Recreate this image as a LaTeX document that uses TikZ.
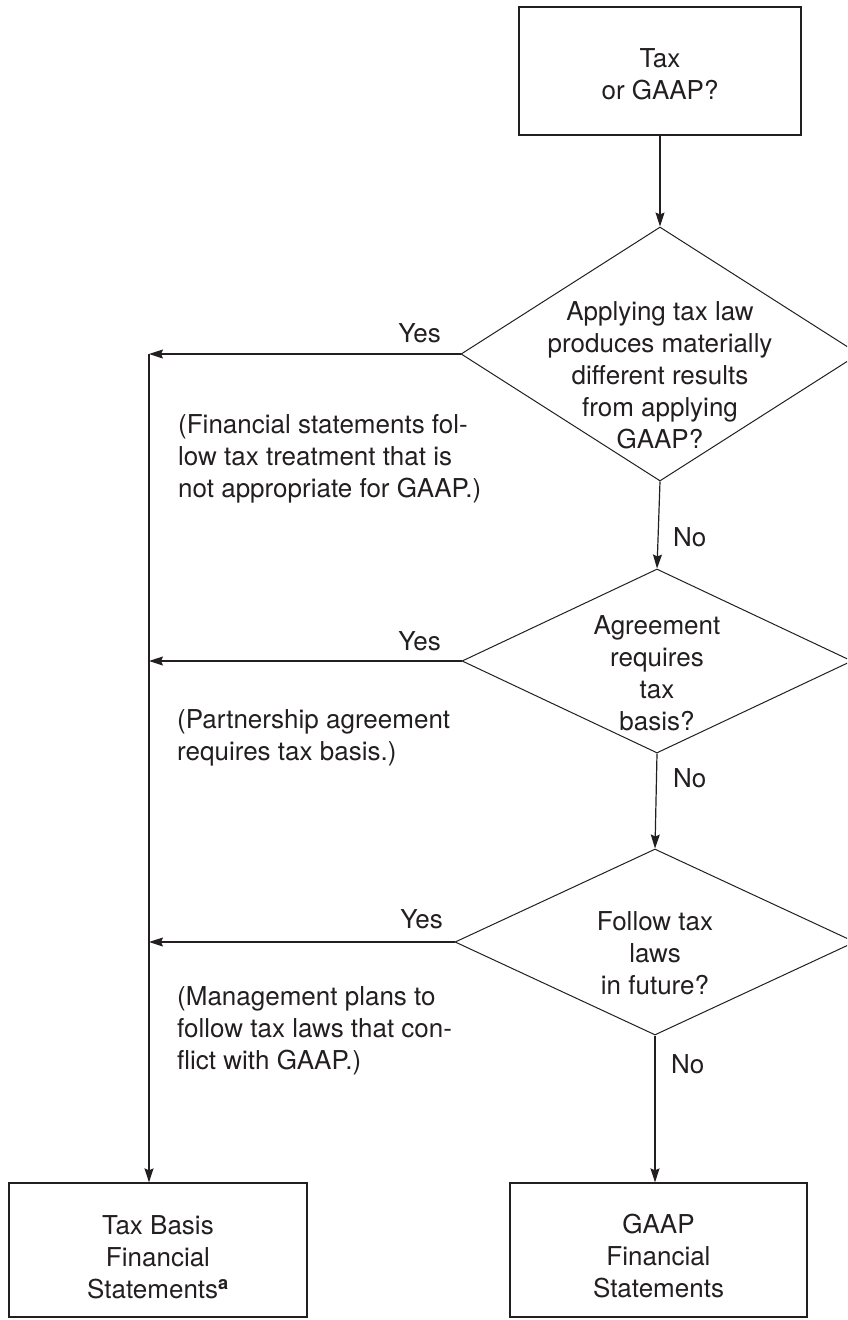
\documentclass[tikz,border=0pt]{standalone}
\usepackage{fontspec}
\setmainfont{TeX Gyre Heros}
\usetikzlibrary{shapes.geometric,arrows.meta}
\definecolor{ink}{RGB}{35,31,32}
\begin{document}
\begin{tikzpicture}[x=1pt,y=-1pt,
  every node/.style={text=ink},
  txt/.style={font=\fontsize{26}{32}\selectfont, inner sep=0pt, align=center},
  ltxt/.style={font=\fontsize{26}{32}\selectfont, inner sep=0pt, align=left, anchor=west},
  lab/.style={font=\fontsize{26}{32}\selectfont, inner sep=0pt},
  box/.style={draw=ink, line width=1.3pt, rectangle, inner sep=0pt},
  dec/.style={draw=ink, line width=1pt, diamond, inner sep=0pt, aspect=1},
  conn/.style={draw=ink, line width=1.2pt},
  arr/.style={conn, -{Stealth[length=14pt,width=9pt,inset=2pt]}}
]
\useasboundingbox (0,0) rectangle (847,1320);
\clip (0,0) rectangle (847,1320);

% boxes
\node[box, minimum width=282pt, minimum height=128pt] (top) at (660,71) {};
\node[txt] (toptxt) at (660,74) {Tax\\or GAAP?};

\node[box, minimum width=298pt, minimum height=134pt] (tb) at (158,1250) {};
\node[txt] (tbtxt) at (158,1257) {Tax Basis\\Financial\\Statements\textsuperscript{\textbf{a}}};

\node[box, minimum width=297pt, minimum height=134pt] (gb) at (658.5,1250) {};
\node[txt] (gbtxt) at (658.5,1256) {GAAP\\Financial\\Statements};

% decisions
\node[dec, minimum width=398pt, minimum height=254pt] (d1) at (660,354) {};
\node[txt] (d1txt) at (660,375) {Applying tax law\\produces materially\\different results\\from applying\\GAAP?};

\node[dec, minimum width=390pt, minimum height=184pt] (d2) at (657,661) {};
\node[txt] (d2txt) at (657,673) {Agreement\\requires\\tax\\basis?};

\node[dec, minimum width=400pt, minimum height=186pt] (d3) at (655,942) {};
\node[txt] (d3txt) at (655,953) {Follow tax\\laws\\in future?};

% left column
\coordinate (lx) at (149,0);

% connectors
\draw[arr] (top.south) -- (d1.north);
\draw[arr] (d1.south) -- (d2.north);
\draw[arr] (d2.south) -- (d3.north);
\draw[arr] (d3.south) -- (d3.south |- gb.north);

\draw[arr] (d1.west) -- (d1.west -| lx) coordinate (j1);
\draw[arr] (d2.west) -- (d2.west -| lx) coordinate (j2);
\draw[arr] (d3.west) -- (d3.west -| lx) coordinate (j3);
\draw[arr] (j1) -- (j1 |- tb.north);

% labels
\node[lab, anchor=base east] (yes1) at (441,342) {Yes};
\node[lab, anchor=base east] (yes2) at (441,650) {Yes};
\node[lab, anchor=base east] (yes3) at (443,928) {Yes};

\node[lab, anchor=base west] (no1) at (673,546) {No};
\node[lab, anchor=base west] (no2) at (673,787) {No};
\node[lab, anchor=base west] (no3) at (671,1073) {No};

\node[ltxt] (n1) at (178,459) {(Financial statements fol-\\low tax treatment that is\\not appropriate for GAAP.)};
\node[ltxt] (n2) at (177,738) {(Partnership agreement\\requires tax basis.)};
\node[ltxt] (n3) at (177,1031) {(Management plans to\\follow tax laws that con-\\flict with GAAP.)};
\end{tikzpicture}
\end{document}
